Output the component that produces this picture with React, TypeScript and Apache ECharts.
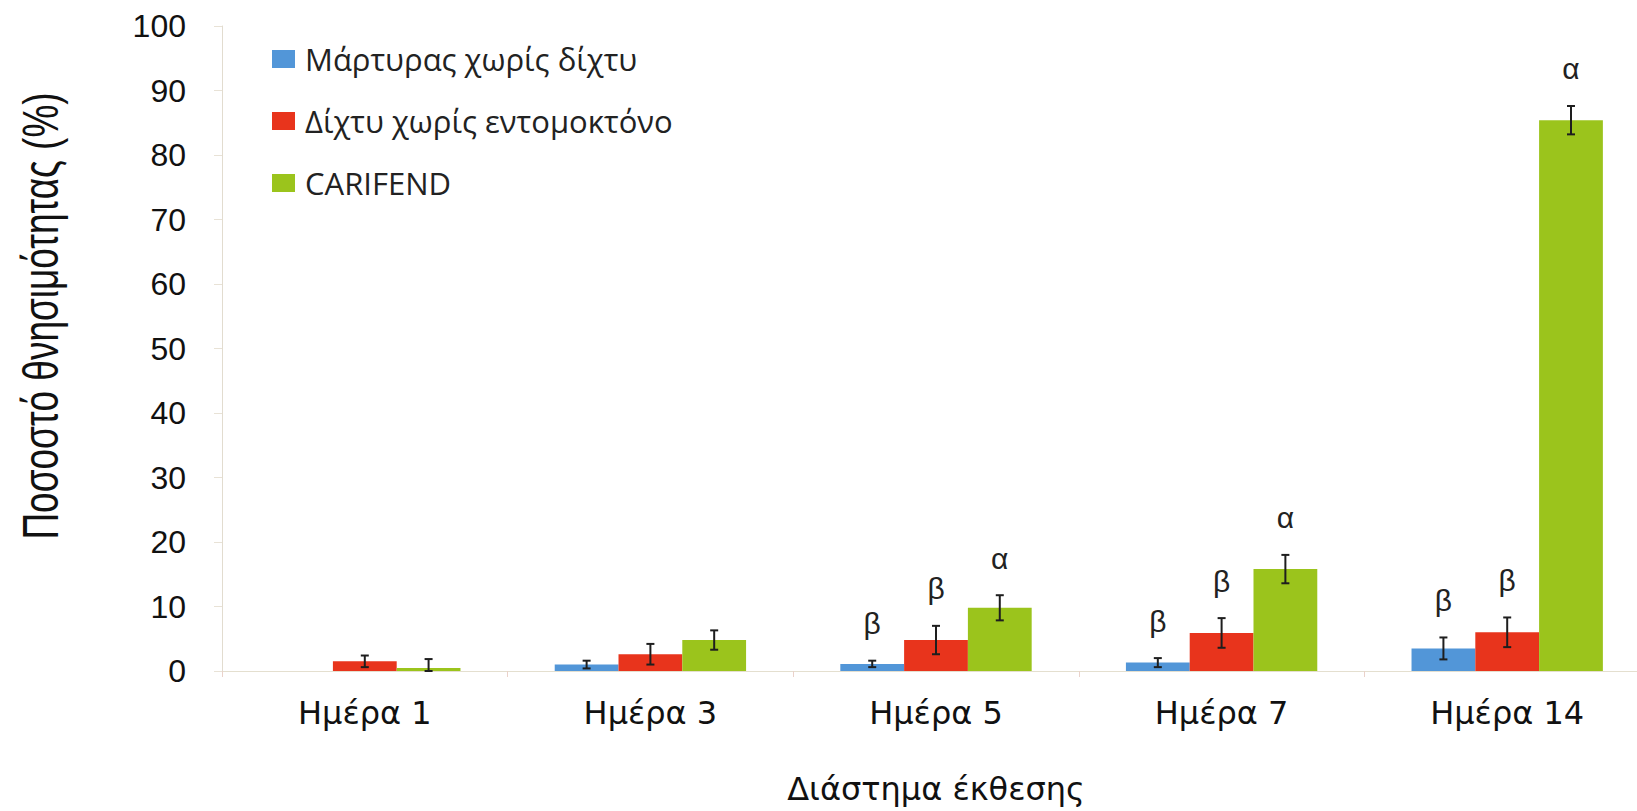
import React, { useEffect, useRef } from "react";
import * as echarts from "echarts";

const categories = ["Ημέρα 1", "Ημέρα 3", "Ημέρα 5", "Ημέρα 7", "Ημέρα 14"];
const yTicks = [0, 10, 20, 30, 40, 50, 60, 70, 80, 90, 100];

const seriesNames = ["Μάρτυρας χωρίς δίχτυ", "Δίχτυ χωρίς εντομοκτόνο", "CARIFEND"];

const controlValues = [null, 1.0, 1.1, 1.3, 3.5];
const controlErrors = [null, 0.6, 0.5, 0.7, 1.7];
const controlLetters = ["", "", "β", "β", "β"];

const netValues = [1.5, 2.6, 4.8, 5.9, 6.0];
const netErrors = [0.9, 1.6, 2.2, 2.3, 2.3];
const netLetters = ["", "", "β", "β", "β"];

const carifendValues = [0.45, 4.8, 9.8, 15.8, 85.4];
const carifendErrors = [1.4, 1.5, 1.95, 2.2, 2.2];
const carifendLetters = ["", "", "α", "α", "α"];

const colors = ["#5296d8", "#e8341c", "#9bc41c"];

const CAT_GAP = 0.33;

function errorSeries(k: number, vals: (number | null)[], errs: (number | null)[], letters: string[]) {
  return {
    type: "custom",
    name: "err" + k,
    coordinateSystem: "cartesian2d",
    z: 5,
    silent: true,
    data: vals.map((v, i) => [i, v == null ? NaN : v, errs[i] == null ? NaN : errs[i]]),
    encode: { x: 0, y: 1 },
    renderItem: (params: any, api: any) => {
      const i = api.value(0);
      const v = api.value(1);
      const e = api.value(2);
      if (!isFinite(v) || !isFinite(e) || e <= 0) return { type: "group", children: [] };
      const band = api.size([1, 0])[0];
      const bw = (band * (1 - CAT_GAP)) / 3;
      const dx = (k - 1) * bw;
      const base = api.coord([i, v]);
      const x = base[0] + dx;
      const yTop = api.coord([i, v + e])[1];
      const yBot = api.coord([i, Math.max(0, v - e)])[1];
      const cap = 4;
      const ls = { stroke: "#1e1e1e", lineWidth: 2 };
      const children: any[] = [
        { type: "line", shape: { x1: x, y1: yTop, x2: x, y2: yBot }, style: ls },
        { type: "line", shape: { x1: x - cap, y1: yTop, x2: x + cap, y2: yTop }, style: ls },
        { type: "line", shape: { x1: x - cap, y1: yBot, x2: x + cap, y2: yBot }, style: ls },
      ];
      const letter = letters[i];
      if (letter) {
        children.push({
          type: "text",
          x: x,
          y: yTop - 37,
          style: {
            text: letter,
            fill: "#222",
            font: '30px "Liberation Sans", Arial, sans-serif',
            align: "center",
            verticalAlign: "middle",
            textAlign: "center",
            textVerticalAlign: "middle",
          },
        });
      }
      return { type: "group", children };
    },
  };
}

export default function App() {
  const ref = useRef<HTMLDivElement>(null);
  useEffect(() => {
    if (!ref.current) return;
    const chart = echarts.init(ref.current, null, { renderer: "svg" });
    const barValues = [controlValues, netValues, carifendValues];
    const option: any = {
      animation: false,
      backgroundColor: "#ffffff",
      grid: {
        left: 222,
        right: 10,
        top: 26,
        bottom: 140,
        containLabel: false,
        outerBoundsMode: "none",
      },
      legend: {
        data: seriesNames,
        orient: "vertical",
        left: 272,
        top: 43,
        padding: 0,
        itemWidth: 23,
        itemHeight: 18,
        itemGap: 30,
        icon: "rect",
        selectedMode: false,
        textStyle: {
          fontFamily: '"Open Sans", sans-serif',
          fontSize: 31,
          color: "#222",
          lineHeight: 32,
          padding: [0, 0, 0, 5],
        },
      },
      xAxis: {
        type: "category",
        data: categories,
        axisLine: { show: true, lineStyle: { color: "#e4dfcf", width: 1 } },
        axisTick: { show: true, alignWithLabel: false, length: 6, lineStyle: { color: "#ead2ca" } },
        axisLabel: {
          fontFamily: '"DejaVu Sans", sans-serif',
          fontSize: 32,
          color: "#111",
          margin: 26,
        },
        splitLine: { show: false },
        name: "Διάστημα έκθεσης",
        nameLocation: "middle",
        nameGap: 102,
        nameTextStyle: {
          fontFamily: '"DejaVu Sans", sans-serif',
          fontSize: 32,
          color: "#111",
        },
      },
      yAxis: {
        type: "value",
        min: yTicks[0],
        max: yTicks[yTicks.length - 1],
        interval: yTicks[1] - yTicks[0],
        axisLine: { show: true, lineStyle: { color: "#e2dccf", width: 1 } },
        axisTick: { show: true, length: 8, lineStyle: { color: "#e8e2d6" } },
        splitLine: { show: false },
        axisLabel: {
          fontFamily: '"Liberation Sans", Arial, sans-serif',
          fontSize: 32,
          color: "#111",
          margin: 36,
        },
      },
      graphic: [
        {
          type: "text",
          x: 40,
          y: 316,
          rotation: Math.PI / 2,
          scaleY: 1.35,
          style: {
            text: "Ποσοστό θνησιμότητας (%)",
            fill: "#111",
            font: '37px "Liberation Sans", Arial, sans-serif',
            align: "center",
            verticalAlign: "middle",
            textAlign: "center",
            textVerticalAlign: "middle",
          },
        },
      ],
      series: [
        ...seriesNames.map((name, k) => ({
          type: "bar",
          name,
          data: barValues[k],
          barGap: "0%",
          barCategoryGap: CAT_GAP * 100 + "%",
          itemStyle: { color: colors[k] },
          z: 2,
        })),
        errorSeries(0, controlValues, controlErrors, controlLetters),
        errorSeries(1, netValues, netErrors, netLetters),
        errorSeries(2, carifendValues, carifendErrors, carifendLetters),
      ],
    };
    chart.setOption(option);
    return () => chart.dispose();
  }, []);
  return (
    <div
      ref={ref}
      style={{ position: "fixed", left: 0, top: 0, width: 1660, height: 811, background: "#fff" }}
    />
  );
}
